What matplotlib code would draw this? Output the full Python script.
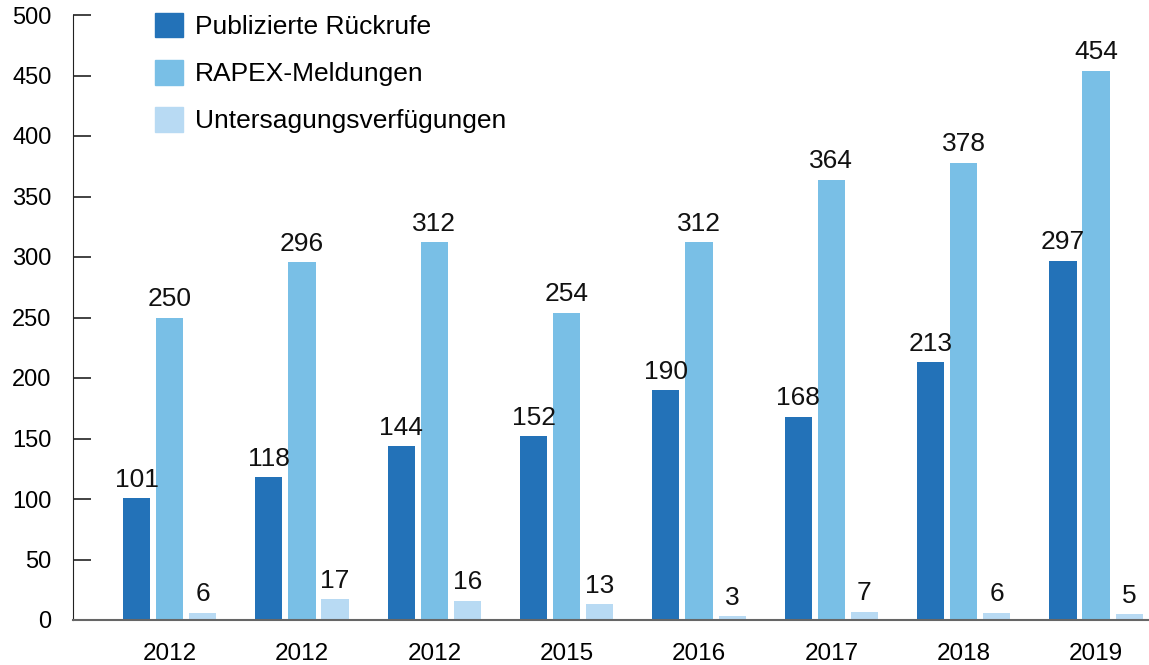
import matplotlib.pyplot as plt
import numpy as np
from matplotlib.patches import Patch

plt.rcParams['font.family'] = ['Liberation Sans', 'DejaVu Sans']

years = ['2012', '2012', '2012', '2015', '2016', '2017', '2018', '2019']
rueckrufe = [101, 118, 144, 152, 190, 168, 213, 297]
rapex = [250, 296, 312, 254, 312, 364, 378, 454]
untersagung = [6, 17, 16, 13, 3, 7, 6, 5]
series_names = ['Publizierte Rückrufe', 'RAPEX-Meldungen', 'Untersagungsverfügungen']
colors = ['#2372b8', '#79bfe6', '#b8daf3']

x = np.arange(len(years))
w = 0.205
off = 0.25

fig = plt.figure(figsize=(11.49, 6.65), dpi=100)
ax = fig.add_axes([73 / 1149, 1 - 620 / 665, 1 - 73 / 1149, 605 / 665])

for i, vals in enumerate([rueckrufe, rapex, untersagung]):
    bars = ax.bar(x + (i - 1) * off, vals, width=w, color=colors[i])
    for b, v in zip(bars, vals):
        ax.annotate(str(v), (b.get_x() + b.get_width() / 2, v), xytext=(0, 4.5),
                    textcoords='offset points', ha='center', va='bottom',
                    fontsize=19, color='#111111')

ax.set_xlim(-0.73, 7.40)
ax.set_ylim(0, 500)
ax.set_yticks(np.arange(0, 501, 50))
ax.set_xticks(x)
ax.set_xticklabels(years, fontsize=17.5)
ax.tick_params(axis='x', length=0, pad=16.5)
ax.tick_params(axis='y', direction='in', length=13, width=1.2, labelsize=17, pad=15.5, color='#222222')
for s in ['top', 'right']:
    ax.spines[s].set_visible(False)
ax.spines['left'].set_color('#222222')
ax.spines['bottom'].set_color('#666666')
ax.spines['bottom'].set_linewidth(1.5)

handles = [Patch(color=c) for c in colors]
fig.legend(handles, series_names, loc='upper left', bbox_to_anchor=(155 / 1149, 1 - 13 / 665),
           frameon=False, fontsize=19, handlelength=1.05, handleheight=1.05,
           labelspacing=0.79, handletextpad=0.45, borderpad=0, borderaxespad=0)

fig.savefig('out.png', dpi=100)
